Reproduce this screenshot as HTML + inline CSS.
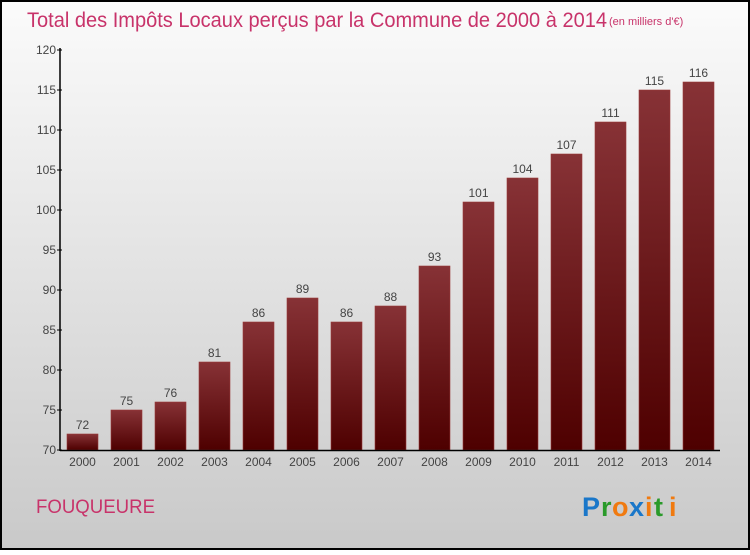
<!DOCTYPE html>
<html><head><meta charset="utf-8"><style>
html,body{margin:0;padding:0}
body{width:750px;height:550px;overflow:hidden;font-family:"Liberation Sans",sans-serif}
</style></head><body>
<svg id="chart" width="750" height="550" xmlns="http://www.w3.org/2000/svg">
<defs>
<linearGradient id="bg" x1="0" y1="0" x2="0" y2="1"><stop offset="0" stop-color="#fbfbfb"/><stop offset="1" stop-color="#c9c9c9"/></linearGradient>
<linearGradient id="bar" x1="0" y1="0" x2="0" y2="1"><stop offset="0" stop-color="#873236"/><stop offset="1" stop-color="#4e0000"/></linearGradient>
</defs>
<rect x="1" y="1" width="748" height="548" fill="url(#bg)" stroke="#000" stroke-width="2"/>
<text x="27" y="27" font-size="21" fill="#c8336a" textLength="580" lengthAdjust="spacingAndGlyphs">Total des Impôts Locaux perçus par la Commune de 2000 à 2014</text>
<text x="609" y="25" font-size="11" fill="#c8336a">(en milliers d'€)</text>
<g id="plot"></g>
<text x="36" y="513" font-size="19" fill="#c8336a" textLength="119" lengthAdjust="spacingAndGlyphs">FOUQUEURE</text>
<g font-size="27" font-weight="bold" font-family="'Liberation Sans',sans-serif">
<text x="582" y="516" fill="#1a77c9">P</text><text x="601" y="516" fill="#2a9a2a">r</text><text x="612" y="516" fill="#f07a10">o</text><text x="629" y="516" fill="#1a77c9">x</text><text x="645" y="516" fill="#f07a10">i</text><text x="654" y="516" fill="#2a9a2a">t</text><text x="669" y="516" fill="#f07a10">i</text>
</g>
</svg>
<script>
const years=["2000","2001","2002","2003","2004","2005","2006","2007","2008","2009","2010","2011","2012","2013","2014"];
const values=[72,75,76,81,86,89,86,88,93,101,104,107,111,115,116];
const yTicks=[70,75,80,85,90,95,100,105,110,115,120];
const NS="http://www.w3.org/2000/svg";
const g=document.getElementById("plot");
const y0=450,y1=50,vmin=70,vmax=120;
const yS=v=>y0-(v-vmin)/(vmax-vmin)*(y0-y1);
const xS=i=>82.5+i*44;
function mk(t,a){const e=document.createElementNS(NS,t);for(const k in a)e.setAttribute(k,a[k]);g.appendChild(e);return e;}
yTicks.forEach(v=>{
 const tk=mk("line",{x1:57,x2:62,y1:yS(v),y2:yS(v),stroke:"#000"});
 
 
 const t=mk("text",{x:56,y:yS(v)+4,"font-size":12,fill:"#444","text-anchor":"end"});
 t.textContent=v;
 
 
});
years.forEach((yr,i)=>{
 const v=values[i];
 const b=mk("rect",{x:xS(i)-15.5,y:yS(v),width:31,height:y0-yS(v),fill:"url(#bar)",stroke:"#9a3a3a","stroke-width":0.6});
 
 
 const l=mk("text",{x:xS(i),y:yS(v)-5,"font-size":12,fill:"#444","text-anchor":"middle"});
 l.textContent=v;
 
 
 const xl=mk("text",{x:xS(i),y:466,"font-size":12,fill:"#444","text-anchor":"middle"});
 xl.textContent=yr;
 
 
});
const ya=mk("line",{x1:60,x2:60,y1:48,y2:451,stroke:"#000","stroke-width":1.5});


const xa=mk("line",{x1:60,x2:720,y1:450.5,y2:450.5,stroke:"#000","stroke-width":1.5});


</script>
</body></html>
